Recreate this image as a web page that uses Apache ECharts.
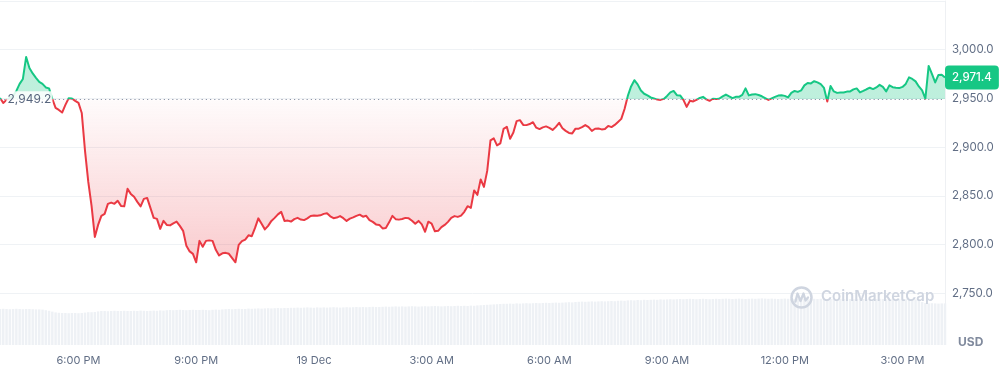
<!DOCTYPE html>
<html>
<head>
<meta charset="utf-8">
<script src="https://cdn.jsdelivr.net/npm/echarts@6/dist/echarts.min.js"></script>
<style>
html,body{margin:0;padding:0;background:#fff;}
#chart{width:1006px;height:369px;}
</style>
</head>
<body>
<div id="chart"></div>
<script>
// ---- data ----
const startTimeUTC = Date.UTC(2024, 11, 18, 16, 0); // 18 Dec, 4:00 PM
const stepMinutes = 5;
const baselinePrice = 2949.2;
const prices = [
2950.5,2945.4,2948.5,2950.5,2952.6,2957.7,2964.9,2970.0,2992.6,2981.3,
2975.7,2971.1,2966.9,2964.9,2961.3,2960.3,2949.5,2940.3,2938.2,2935.5,
2943.4,2950.2,2950.0,2947.5,2945.4,2935.1,2896.2,2864.3,2839.7,2807.9,
2820.2,2829.5,2831.5,2841.8,2843.1,2841.8,2844.9,2839.7,2839.2,2857.2,
2852.0,2849.0,2843.8,2839.2,2846.9,2847.9,2837.7,2827.4,2826.4,2816.1,
2824.3,2820.2,2819.7,2821.8,2823.6,2819.2,2814.1,2798.7,2793.0,2790.5,
2781.8,2803.8,2797.7,2803.8,2804.3,2803.8,2794.6,2788.9,2791.0,2791.5,
2790.5,2786.1,2781.8,2799.7,2803.5,2805.1,2809.5,2808.6,2817.1,2826.9,
2821.3,2815.6,2819.2,2824.3,2827.4,2831.0,2833.6,2824.3,2824.6,2823.6,
2826.1,2827.4,2825.7,2825.1,2826.9,2829.3,2829.9,2829.5,2830.0,2831.5,
2832.2,2829.0,2827.1,2827.7,2829.2,2827.1,2824.3,2826.6,2827.9,2829.5,
2830.7,2828.6,2829.5,2825.1,2823.3,2820.7,2820.2,2816.6,2817.1,2822.8,
2829.5,2826.1,2825.6,2826.2,2827.4,2826.9,2824.5,2821.3,2824.3,2820.7,
2813.1,2823.5,2821.6,2813.6,2814.1,2817.9,2820.2,2823.3,2827.4,2829.2,
2828.4,2829.7,2833.6,2839.4,2837.7,2855.6,2851.0,2866.9,2859.2,2875.6,
2906.9,2909.0,2901.8,2903.8,2918.7,2920.8,2908.5,2915.1,2926.7,2927.7,
2922.8,2922.6,2923.7,2925.6,2920.0,2918.5,2920.3,2921.3,2919.8,2917.7,
2920.8,2924.9,2919.4,2916.7,2914.6,2914.1,2919.0,2919.0,2920.5,2922.6,
2920.5,2916.7,2918.9,2919.2,2918.2,2918.7,2921.8,2920.6,2922.8,2925.9,
2929.0,2939.2,2952.6,2962.3,2968.7,2964.4,2958.2,2954.8,2953.1,2951.0,
2950.0,2948.8,2948.5,2949.5,2952.6,2956.2,2957.7,2953.3,2953.1,2948.5,
2941.3,2947.7,2946.9,2948.5,2950.5,2951.6,2949.0,2947.5,2949.7,2949.3,
2949.9,2952.1,2954.0,2952.1,2950.3,2951.6,2951.6,2953.6,2960.3,2953.1,
2954.1,2954.4,2953.5,2952.2,2950.4,2948.5,2950.1,2951.6,2952.9,2953.3,
2952.6,2951.1,2955.7,2957.7,2956.7,2958.2,2963.4,2965.9,2965.4,2967.7,
2966.5,2964.6,2960.8,2946.9,2962.8,2957.2,2955.7,2956.0,2956.0,2957.0,
2957.2,2959.3,2960.3,2956.2,2957.7,2959.4,2961.0,2959.6,2961.3,2963.9,
2961.8,2957.2,2963.4,2961.5,2961.0,2960.6,2961.8,2964.9,2971.6,2970.0,
2967.5,2962.3,2958.2,2949.8,2983.4,2975.2,2966.4,2974.1,2974.3,2971.4
];
// 24h volume, billions USD
const volumes = [
18.0,18.1,18.0,17.9,18.0,18.1,18.0,17.9,18.0,18.0,
17.9,17.8,17.8,17.7,17.4,17.1,16.7,16.3,16.1,16.0,
16.0,15.9,16.0,16.0,15.9,16.0,16.2,16.4,16.4,16.5,
16.8,17.0,17.0,16.9,17.0,17.1,17.0,17.0,17.1,17.0,
17.0,17.1,17.0,17.2,17.1,17.0,17.1,17.2,17.1,17.3,
17.2,17.4,17.5,17.4,17.5,17.6,17.5,17.4,17.5,17.6,
17.5,17.5,17.6,17.5,17.4,17.6,17.7,17.6,17.8,17.9,
18.0,17.9,18.0,18.1,18.0,18.0,18.2,18.1,18.2,18.3,
18.2,18.3,18.4,18.3,18.4,18.5,18.4,18.5,18.5,18.6,
18.6,18.7,18.6,18.7,18.8,18.7,18.6,18.8,18.7,18.8,
18.7,18.8,18.9,18.8,18.7,18.8,18.9,18.8,18.9,19.0,
18.9,19.0,18.9,19.0,19.1,19.0,19.0,19.1,19.2,19.1,
19.2,19.3,19.2,19.3,19.2,19.3,19.4,19.3,19.2,19.3,
19.4,19.3,19.4,19.5,19.4,19.3,19.4,19.5,19.4,19.5,
19.6,19.5,19.6,19.5,19.7,19.6,19.8,19.9,20.0,20.1,
20.2,20.3,20.4,20.5,20.6,20.6,20.7,20.6,20.8,20.7,
20.8,20.9,20.8,20.9,21.0,20.9,21.0,21.1,21.0,21.1,
21.2,21.1,21.2,21.3,21.4,21.3,21.5,21.6,21.7,21.6,
21.7,21.8,21.7,21.8,21.9,21.8,21.9,22.0,21.9,22.1,
22.2,22.1,22.3,22.4,22.3,22.5,22.4,22.6,22.5,22.6,
22.7,22.6,22.8,22.7,22.8,22.9,22.8,22.9,23.0,22.9,
23.0,23.1,23.0,22.9,23.0,23.1,23.0,22.9,23.0,23.1,
23.0,23.1,23.2,23.1,23.0,23.1,23.2,23.1,23.0,23.1,
23.2,23.1,23.2,23.3,23.2,23.1,23.2,23.1,23.0,23.1,
23.2,23.1,23.0,23.1,23.2,23.1,23.0,22.9,23.0,23.1,
23.0,23.1,23.0,22.9,23.0,23.1,23.0,23.1,23.0,22.9,
23.0,22.9,23.0,23.1,23.0,22.9,23.0,22.9,23.0,23.1,
23.0,22.9,23.0,23.1,23.0,22.9,22.8,22.9,23.0,22.9,
22.8,22.6,21.5,21.0,20.8,20.9,20.8,20.7,20.8,20.8
];
const tickTimes  = ['18 18:00','18 21:00','19 00:00','19 03:00','19 06:00','19 09:00','19 12:00','19 15:00'];
const tickLabels = ['6:00 PM','9:00 PM','19 Dec','3:00 AM','6:00 AM','9:00 AM','12:00 PM','3:00 PM'];
const priceTicks = [2750, 2800, 2850, 2900, 2950, 3000];

// ---- build ----
const pad = n => String(n).padStart(2, '0');
const categories = prices.map((_, i) => {
  const d = new Date(startTimeUTC + i * stepMinutes * 60000);
  return d.getUTCDate() + ' ' + pad(d.getUTCHours()) + ':' + pad(d.getUTCMinutes());
});
const fmt = v => v.toLocaleString('en-US', {minimumFractionDigits: 1, maximumFractionDigits: 1});
const lastPrice = prices[prices.length - 1];
const GREEN = '#16c784', RED = '#ea3943';
const FONT = 'Inter, "Noto Sans", sans-serif';

const chart = echarts.init(document.getElementById('chart'), null, {renderer: 'canvas'});
const option = {
  animation: false,
  grid: [
    {left: 0, right: 61, top: 1, bottom: 27},
    {left: 0, right: 61, top: 245, bottom: 24}
  ],
  xAxis: [
    {type: 'category', gridIndex: 0, data: categories, boundaryGap: false, show: false},
    {type: 'category', gridIndex: 1, data: categories, boundaryGap: false,
     axisLine: {show: false}, axisTick: {show: false},
     axisLabel: {
       interval: (idx, val) => tickTimes.indexOf(val) >= 0,
       formatter: val => { const k = tickTimes.indexOf(val); return k >= 0 ? tickLabels[k] : ''; },
       color: '#616e85', fontSize: 11, fontFamily: FONT, margin: 10
     }}
  ],
  yAxis: [
    {type: 'value', gridIndex: 0, position: 'right', min: 2700, max: 3050, interval: 50,
     axisLine: {show: true, lineStyle: {color: '#eef0f3'}},
     axisTick: {show: false},
     splitLine: {show: true, showMinLine: false, lineStyle: {color: '#eff2f5', width: 1}},
     axisLabel: {
       showMinLabel: false, showMaxLabel: false,
       formatter: v => priceTicks.indexOf(v) >= 0 ? fmt(v) : '',
       color: '#616e85', fontSize: 11.5, fontFamily: FONT, margin: 7
     }},
    {type: 'value', gridIndex: 1, min: 0, max: 50, show: false}
  ],
  series: [
    {
      name: 'Price', type: 'line', xAxisIndex: 0, yAxisIndex: 0, data: prices,
      symbol: 'none', z: 3,
      lineStyle: {width: 2, color: RED, join: 'round'},
      areaStyle: {origin: baselinePrice, color: 'rgba(234,57,67,0.1)', opacity: 1},
      markLine: {
        symbol: 'none', silent: true, animation: false,
        data: [
          {yAxis: baselinePrice, lineStyle: {type: [1.2, 3], color: '#8c96a8', width: 1}, label: {show: false}}
        ]
      },
      markPoint: {
        silent: true, animation: false,
        data: [{
          coord: [categories[9], baselinePrice], symbol: 'rect', symbolSize: [46, 16],
          itemStyle: {color: 'rgba(255,255,255,0.85)'},
          label: {show: true, position: 'inside', formatter: fmt(baselinePrice),
                  color: '#58667e', fontSize: 12, fontFamily: FONT}
        }]
      }
    },
    {
      name: 'Volume', type: 'bar', xAxisIndex: 1, yAxisIndex: 1, data: volumes,
      barCategoryGap: '25%', itemStyle: {color: '#eef1f5'}, silent: true, z: 1
    },
    {
      // current price tag on the right axis
      name: 'Last', type: 'line', xAxisIndex: 0, yAxisIndex: 0, data: [], silent: true,
      markLine: {
        symbol: 'none', silent: true, animation: false,
        lineStyle: {color: 'rgba(0,0,0,0)', width: 0.01},
        data: [{yAxis: lastPrice}],
        label: {show: true, position: 'end', distance: 0, formatter: fmt(lastPrice),
                backgroundColor: GREEN, color: '#ffffff', borderRadius: 4, padding: [6, 7, 6, 7],
                fontSize: 11.5, fontWeight: 500, fontFamily: FONT}
      }
    }
  ],
  graphic: [
    {type: 'circle', z: 100, shape: {cx: 801.5, cy: 297.5, r: 10}, style: {fill: 'none', stroke: '#cfd5e0', lineWidth: 2.5}},
    {type: 'polyline', z: 100, shape: {points: [[795.5, 301.5], [797.5, 293.5], [800.5, 301], [803.5, 293.5], [805.5, 300.5], [808, 297.5]]},
     style: {fill: 'none', stroke: '#cfd5e0', lineWidth: 2.3, lineJoin: 'round', lineCap: 'round'}},
    {type: 'text', z: 100, left: 821, top: 289, style: {text: 'CoinMarketCap', fill: '#cfd5e0', font: '600 15px ' + FONT}},
    {type: 'text', z: 100, left: 958, top: 336, style: {text: 'USD', fill: '#808a9d', font: 'bold 12px ' + FONT}}
  ]
};
chart.setOption(option);

// colour split at the baseline (pixel-space gradients from the axis scale)
const yb = chart.convertToPixel({yAxisIndex: 0}, baselinePrice);
const ymin = chart.convertToPixel({yAxisIndex: 0}, Math.min.apply(null, prices));
const b = Math.max(0, Math.min(1, yb / ymin));
const LG = echarts.graphic.LinearGradient;
chart.setOption({
  series: [{
    lineStyle: {color: new LG(0, 0, 0, ymin, [
      {offset: 0, color: GREEN}, {offset: b, color: GREEN},
      {offset: b, color: RED}, {offset: 1, color: RED}], true)},
    areaStyle: {color: new LG(0, 0, 0, ymin, [
      {offset: 0, color: 'rgba(22,199,132,0.28)'}, {offset: b, color: 'rgba(22,199,132,0.28)'},
      {offset: b, color: 'rgba(234,57,67,0.02)'}, {offset: 1, color: 'rgba(234,57,67,0.26)'}], true)}
  }, {}, {}]
});
</script>
</body>
</html>
